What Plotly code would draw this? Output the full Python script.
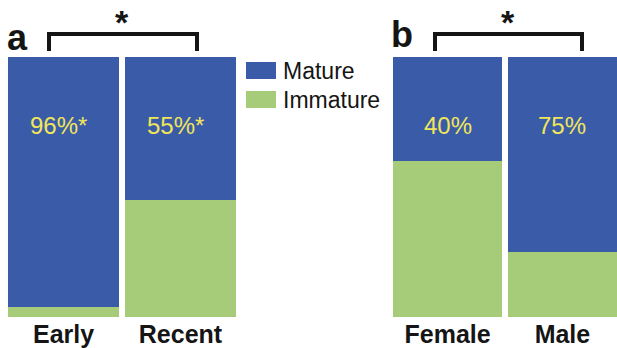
import plotly.graph_objects as go

# Share of mature vs immature, in percent
groups_a = ["Early", "Recent"]
mature_a = [96, 55]
groups_b = ["Female", "Male"]
mature_b = [40, 75]
immature_a = [100 - v for v in mature_a]
immature_b = [100 - v for v in mature_b]
labels_a = ["96%*", "55%*"]
labels_b = ["40%", "75%"]
series_names = ["Mature", "Immature"]

BLUE = "#3a5ba8"
GREEN = "#a6cc7a"
YELLOW = "#f1e65a"
INK = "#151515"
W, H = 617, 348


def px(x):
    return x / W


def py(y):
    return 1 - y / H


fig = go.Figure()
pos = [0, 1]
bw = 0.95

for xa, ya, mature, immature in [("x", "y", mature_a, immature_a),
                                 ("x2", "y2", mature_b, immature_b)]:
    fig.add_trace(go.Bar(x=pos, y=immature, width=bw, marker_color=GREEN,
                         marker_line_width=0, xaxis=xa, yaxis=ya,
                         name=series_names[1], showlegend=False))
    fig.add_trace(go.Bar(x=pos, y=mature, width=bw, marker_color=BLUE,
                         marker_line_width=0, xaxis=xa, yaxis=ya,
                         name=series_names[0], showlegend=False))

# percentage labels in the upper part of each bar
label_y = 73.5
for xref, yref, labels in [("x", "y", labels_a), ("x2", "y2", labels_b)]:
    for p, t in zip(pos, labels):
        fig.add_annotation(x=p - (0.04 if t.endswith("*") else 0), y=label_y,
                           xref=xref, yref=yref, text=t,
                           showarrow=False, xanchor="center", yanchor="middle",
                           font=dict(family="Liberation Sans, Arial", size=24,
                                     color=YELLOW))

tick_font = dict(family="Liberation Sans, Arial", size=25, color=INK,
                 weight="bold")
axis_common = dict(tickmode="array", tickvals=pos, showgrid=False,
                   zeroline=False, showline=False, ticks="",
                   range=[-bw / 2, 1 + bw / 2], fixedrange=True,
                   tickfont=tick_font, ticklabelstandoff=0)
yaxis_common = dict(range=[0, 100], visible=False, fixedrange=True,
                    domain=[py(317), py(57)])

fig.update_layout(
    width=W, height=H, margin=dict(l=0, r=0, t=0, b=0),
    paper_bgcolor="white", plot_bgcolor="white",
    barmode="stack", showlegend=False,
    xaxis=dict(domain=[px(8), px(236)], ticktext=groups_a, anchor="y",
               **axis_common),
    yaxis=dict(anchor="x", **yaxis_common),
    xaxis2=dict(domain=[px(393), px(617)], ticktext=groups_b, anchor="y2",
                **axis_common),
    yaxis2=dict(anchor="x2", **yaxis_common),
)

shapes = []
# significance brackets
for x0, x1 in [(49, 197), (435, 582)]:
    shapes.append(dict(type="path", xref="paper", yref="paper",
                       path=f"M {px(x0)} {py(51)} L {px(x0)} {py(34)} "
                            f"L {px(x1)} {py(34)} L {px(x1)} {py(51)}",
                       line=dict(color=INK, width=4)))
# legend swatches
for (y0, y1), col in [((62, 79), BLUE), ((91, 108), GREEN)]:
    shapes.append(dict(type="rect", xref="paper", yref="paper",
                       x0=px(246), x1=px(276), y0=py(y1), y1=py(y0),
                       fillcolor=col, line_width=0))
fig.update_layout(shapes=shapes)

# stars over the brackets
for xs in [122, 508]:
    fig.add_annotation(x=px(xs), y=py(22), xref="paper", yref="paper",
                       text="*", showarrow=False,
                       xanchor="center", yanchor="middle",
                       font=dict(family="Liberation Sans, Arial", size=34,
                                 color=INK, weight="bold"))
# panel letters
for xs, ys, t in [(17, 37, "a"), (402, 34, "b")]:
    fig.add_annotation(x=px(xs), y=py(ys), xref="paper", yref="paper",
                       text=t, showarrow=False,
                       xanchor="center", yanchor="middle",
                       font=dict(family="Liberation Sans, Arial", size=36,
                                 color=INK, weight="bold"))
# legend text
for ys, t in [(71, series_names[0]), (100, series_names[1])]:
    fig.add_annotation(x=px(281), y=py(ys), xref="paper", yref="paper",
                       text=t, showarrow=False,
                       xanchor="left", yanchor="middle",
                       font=dict(family="Liberation Sans, Arial", size=23,
                                 color=INK))

fig.write_html("out.html")
